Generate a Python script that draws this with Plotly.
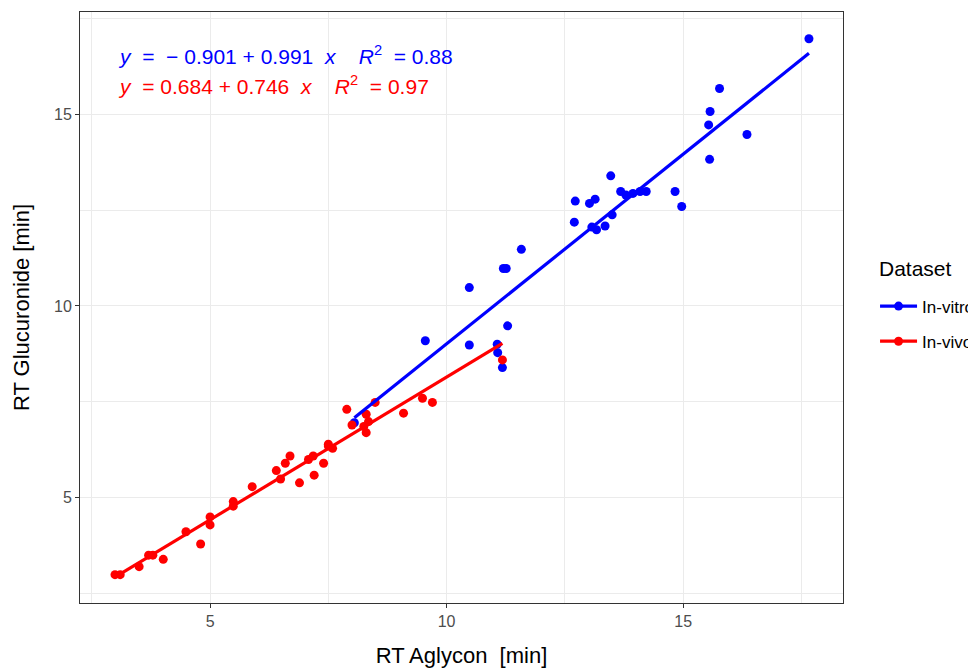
import plotly.graph_objects as go

# ---------------- data ----------------
vitro_x = [8.05, 9.55, 10.48, 10.48, 11.07, 11.08, 11.18, 11.20, 11.26, 11.29, 11.58,
           12.70, 12.72, 13.02, 13.07, 13.14, 13.17, 13.35, 13.47, 13.50, 13.68, 13.79,
           13.94, 14.09, 14.22, 14.83, 14.97, 15.54, 15.56, 15.57, 15.77, 16.35, 17.66]
vitro_y = [6.95, 9.09, 10.48, 8.98, 9.00, 8.78, 8.39, 10.98, 10.98, 9.48, 11.48,
           12.19, 12.74, 12.68, 12.06, 12.79, 11.99, 12.09, 13.40, 12.38, 12.99, 12.90,
           12.94, 12.99, 12.99, 12.99, 12.60, 14.73, 13.83, 15.08, 15.68, 14.48, 16.98]

vivo_x = [2.99, 3.10, 3.50, 3.70, 3.79, 4.01, 4.49, 4.80, 5.00, 5.00, 5.49, 5.49, 5.89,
          6.40, 6.49, 6.59, 6.69, 6.89, 7.08, 7.18, 7.20, 7.40, 7.50, 7.50, 7.59,
          7.89, 8.00, 8.25, 8.30, 8.30, 8.35, 8.49, 9.09, 9.49, 9.70, 11.18]
vivo_y = [2.98, 2.98, 3.19, 3.49, 3.49, 3.38, 4.10, 3.78, 4.49, 4.28, 4.89, 4.77, 5.28,
          5.70, 5.48, 5.89, 6.08, 5.38, 5.99, 6.08, 5.58, 5.89, 6.39, 6.34, 6.28,
          7.30, 6.89, 6.85, 7.17, 6.69, 6.98, 7.48, 7.20, 7.59, 7.48, 8.59]

# fitted regression coefficients as printed on the chart
vitro_fit = {"intercept": -0.901, "slope": 0.991, "r2": 0.88}
vivo_fit = {"intercept": 0.684, "slope": 0.746, "r2": 0.97}

series_names = ["In-vitro", "In-vivo"]
colors = ["#0000FF", "#FF0000"]
legend_title = "Dataset"

x_ticks = [5, 10, 15]
y_ticks = [5, 10, 15]

FONT = "Liberation Sans, Arial, sans-serif"

# ---------------- figure ----------------
fig = go.Figure()

datasets = [(vitro_x, vitro_y, vitro_fit), (vivo_x, vivo_y, vivo_fit)]

for (xs, ys, fit), name, col in zip(datasets, series_names, colors):
    fig.add_trace(go.Scatter(x=xs, y=ys, mode="markers", name=name,
                             marker=dict(color=col, size=9, line=dict(width=0)),
                             showlegend=False, hoverinfo="x+y"))

for (xs, ys, fit), name, col in zip(datasets, series_names, colors):
    x0, x1 = min(xs), max(xs)
    fig.add_trace(go.Scatter(x=[x0, x1],
                             y=[fit["intercept"] + fit["slope"] * x0,
                                fit["intercept"] + fit["slope"] * x1],
                             mode="lines", line=dict(color=col, width=3.2),
                             showlegend=False, name=name))

for name, col in zip(series_names, colors):
    fig.add_trace(go.Scatter(x=[None], y=[None], mode="lines+markers", name=name,
                             legendgroup=name,
                             line=dict(color=col, width=3.2),
                             marker=dict(color=col, size=9)))

SP = "&nbsp;"


def eq_text(fit):
    a = fit["intercept"]
    b = fit["slope"]
    if a < 0:
        a_s = "\u2212" + SP + f"{abs(a):.3f}"
        lead = SP * 2
    else:
        a_s = f"{a:.3f}"
        lead = SP
    return (f"<i>y</i>{SP * 2}={lead}{a_s}{SP}+{SP}{b:.3f}{SP * 2}<i>x</i>{SP * 4}"
            f"<i>R</i><sup>2</sup>{SP * 2}={SP}{fit['r2']:.2f}")


for fit, col, yp in zip([vitro_fit, vivo_fit], colors, [0.928, 0.877]):
    fig.add_annotation(xref="paper", yref="paper", x=0.047, y=yp,
                       xanchor="left", yanchor="middle", showarrow=False,
                       text=eq_text(fit),
                       font=dict(family=FONT, size=21, color=col))

# legend title as a text label beside the legend
fig.add_annotation(xref="paper", yref="paper", x=1.0446, y=0.5668,
                   xanchor="left", yanchor="middle", showarrow=False,
                   text=legend_title,
                   font=dict(family=FONT, size=21, color="black"))

grid_col = "#EBEBEB"
axis_common = dict(
    showline=True, linecolor="#333333", linewidth=1, mirror=True,
    ticks="outside", ticklen=4, tickcolor="#333333", tickwidth=1,
    showgrid=True, gridcolor=grid_col, gridwidth=1.4,
    zeroline=False,
    tickfont=dict(family=FONT, size=16, color="#4D4D4D"),
)

fig.update_xaxes(range=[2.25, 18.38], tickvals=x_ticks,
                 minor=dict(tickvals=[2.5, 7.5, 12.5, 17.5], showgrid=True,
                            gridcolor=grid_col, gridwidth=0.7, ticks=""),
                 title=dict(text="RT Aglycon  [min]", standoff=18,
                            font=dict(family=FONT, size=22, color="black")),
                 **axis_common)
fig.update_yaxes(range=[2.24, 17.68], tickvals=y_ticks,
                 minor=dict(tickvals=[2.5, 7.5, 12.5, 17.5], showgrid=True,
                            gridcolor=grid_col, gridwidth=0.7, ticks=""),
                 title=dict(text="RT Glucuronide [min]", standoff=18,
                            font=dict(family=FONT, size=22, color="black")),
                 **axis_common)

fig.update_layout(
    width=984, height=668,
    margin=dict(l=72, r=149, t=4, b=73),
    plot_bgcolor="white", paper_bgcolor="white",
    font=dict(family=FONT),
    legend=dict(
        font=dict(size=17, color="black"),
        x=1.042, xanchor="left", y=0.472, yanchor="middle",
        traceorder="grouped", tracegroupgap=10,
        itemwidth=37,
        bgcolor="rgba(0,0,0,0)",
    ),
)

fig.write_html("out.html")
